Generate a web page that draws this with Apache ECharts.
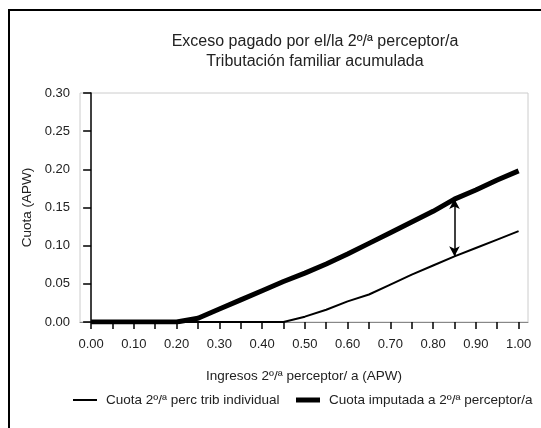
<!DOCTYPE html>
<html lang="es">
<head>
    <meta charset="UTF-8">
    <title>Exceso pagado por el/la 2º/ª perceptor/a</title>
    <script src="https://cdnjs.cloudflare.com/ajax/libs/echarts/6.0.0/echarts.min.js"></script>
    <style>
        * { margin: 0; padding: 0; box-sizing: border-box; }
        body { background: #fff; }
        #chart { width: 541px; height: 428px; }
    </style>
</head>
<body>
    <div id="chart"></div>
    <script>
        // ingresos del 2º/ª perceptor/a (APW)
        const ingresos = [0, 0.05, 0.10, 0.15, 0.20, 0.25, 0.30, 0.35, 0.40, 0.45, 0.50,
                          0.55, 0.60, 0.65, 0.70, 0.75, 0.80, 0.85, 0.90, 0.95, 1.00];
        // cuota con tributacion individual
        const cuotaIndividual = [0, 0, 0, 0, 0, 0, 0, 0, 0, 0, 0.007,
                                 0.016, 0.027, 0.036, 0.049, 0.062, 0.074, 0.086, 0.097, 0.108, 0.119];
        // cuota imputada (tributacion familiar acumulada)
        const cuotaImputada = [0, 0, 0, 0, 0, 0.005, 0.017, 0.029, 0.041, 0.053, 0.064,
                               0.076, 0.089, 0.103, 0.117, 0.131, 0.145, 0.161, 0.173, 0.186, 0.198];
        const xTicks = [0, 0.05, 0.10, 0.15, 0.20, 0.25, 0.30, 0.35, 0.40, 0.45, 0.50,
                        0.55, 0.60, 0.65, 0.70, 0.75, 0.80, 0.85, 0.90, 0.95, 1.00];
        const xLabels = [0, 0.10, 0.20, 0.30, 0.40, 0.50, 0.60, 0.70, 0.80, 0.90, 1.00];
        // flecha de diferencia
        const flechaX = 0.85;

        const font = "'Liberation Sans', Arial, sans-serif";
        const txt = '#222';
        const chart = echarts.init(document.getElementById('chart'));

        chart.setOption({
            animation: false,
            textStyle: { fontFamily: font },
            title: {
                text: 'Exceso pagado por el/la 2º/ª perceptor/a\nTributación familiar acumulada',
                left: 310, top: 27, textAlign: 'center',
                textStyle: { fontSize: 16, fontWeight: 'normal', color: txt, lineHeight: 20, fontFamily: font }
            },
            graphic: [{
                type: 'rect', shape: { x: 9, y: 10, width: 600, height: 500 },
                style: { fill: 'none', stroke: '#000', lineWidth: 2 }
            }],
            grid: { left: 80, right: 13, top: 93, bottom: 106, show: true, borderColor: '#ccc', borderWidth: 1 },
            legend: {
                bottom: 16, left: 67, itemWidth: 24, itemHeight: 12, itemGap: 14,
                itemStyle: { opacity: 0 },
                textStyle: { fontSize: 13.5, color: txt, fontFamily: font, padding: [0, 0, 0, 4] },
                data: [
                    { name: 'Cuota 2º/ª perc trib individual', lineStyle: { width: 2, color: '#000' } },
                    { name: 'Cuota imputada a 2º/ª perceptor/a', lineStyle: { width: 5, color: '#000' } }
                ]
            },
            xAxis: {
                type: 'value', min: -0.026, max: 1.022,
                name: 'Ingresos 2º/ª perceptor/ a (APW)', nameLocation: 'middle', nameGap: 47,
                nameTextStyle: { fontSize: 13.5, color: txt },
                axisLine: { lineStyle: { color: '#888', width: 1 } },
                axisTick: { customValues: xTicks, length: 7, lineStyle: { color: '#000', width: 1.5 } },
                axisLabel: { customValues: xLabels, fontSize: 13, color: txt, margin: 16,
                             formatter: v => v.toFixed(2) },
                splitLine: { show: false }
            },
            yAxis: {
                type: 'value', min: 0, max: 0.30, interval: 0.05,
                name: 'Cuota (APW)', nameLocation: 'middle', nameGap: 45,
                nameTextStyle: { fontSize: 13.5, color: txt },
                axisLine: { show: true, lineStyle: { color: '#000', width: 1.5 } },
                axisTick: { show: true, length: 8, lineStyle: { color: '#000', width: 1.5 } },
                axisLabel: { fontSize: 13, color: txt, margin: 10, formatter: v => v.toFixed(2) },
                splitLine: { show: false }
            },
            series: [{
                name: 'Cuota 2º/ª perc trib individual',
                type: 'line', symbol: 'none',
                data: ingresos.map((x, i) => [x, cuotaIndividual[i]]),
                lineStyle: { color: '#000', width: 2 },
                itemStyle: { color: '#000' },
                z: 3,
                markLine: {
                    silent: true, symbol: ['arrow', 'arrow'], symbolSize: [8, 10],
                    label: { show: false },
                    lineStyle: { color: '#000', width: 1.5, type: 'solid' },
                    data: [[
                        { coord: [flechaX, cuotaIndividual[ingresos.indexOf(flechaX)]] },
                        { coord: [flechaX, cuotaImputada[ingresos.indexOf(flechaX)]] }
                    ]]
                }
            }, {
                name: 'Cuota imputada a 2º/ª perceptor/a',
                type: 'line', symbol: 'none',
                data: ingresos.map((x, i) => [x, cuotaImputada[i]]),
                lineStyle: { color: '#000', width: 5 },
                itemStyle: { color: '#000' },
                z: 4
            }]
        });
    </script>
</body>
</html>
